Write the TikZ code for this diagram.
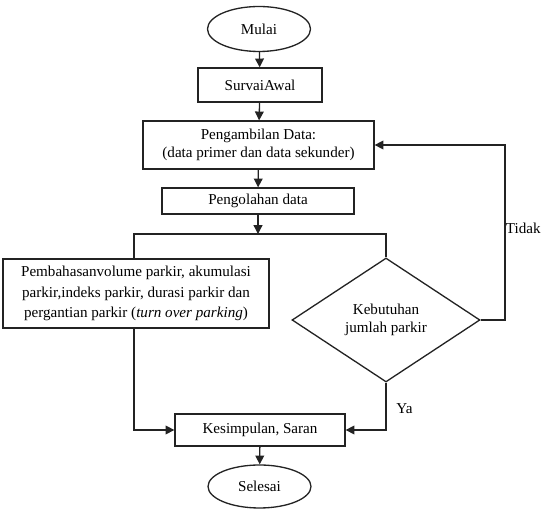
\documentclass[tikz,border=0pt]{standalone}
\usepackage{fontspec}
\setmainfont{Liberation Serif}
\usepackage{tikz}
\usetikzlibrary{arrows.meta,shapes.geometric}
\definecolor{figline}{RGB}{35,35,35}
\tikzset{
  ln/.style   ={draw=figline, line width=0.75pt},
  ptr/.style  ={ln, -{Triangle[length=5pt,width=5pt]}},
  proc/.style ={ln, rectangle, inner sep=1pt, align=center, font=\fontsize{8.6}{10.4}\selectfont},
  term/.style ={ln, ellipse, inner sep=0pt, font=\fontsize{8.6}{10.4}\selectfont},
  cond/.style ={ln, diamond, inner sep=0pt, align=center, font=\fontsize{8.6}{10.4}\selectfont},
  lab/.style  ={font=\fontsize{8.6}{10.4}\selectfont, inner sep=0pt},
}
\begin{document}
\begin{tikzpicture}[x=0.02cm,y=-0.02cm]
  \useasboundingbox (0,0) rectangle (542,516);
  \node[term,minimum width=2.06cm,minimum height=0.9cm] (mulai) at (259,29) {Mulai};
  \node[proc,minimum width=2.48cm,minimum height=0.68cm] (survai) at (260,85) {SurvaiAwal};
  \node[proc,minimum width=4.62cm,minimum height=0.96cm] (ambil) at (258.5,145) {Pengambilan Data:\\(data primer dan data sekunder)};
  \node[proc,minimum width=3.84cm,minimum height=0.52cm] (olah) at (258,201) {Pengolahan data};
  \node[proc,minimum width=5.32cm,minimum height=1.38cm,font=\fontsize{8.6}{11.8}\selectfont] (bahas) at (136,293.5) {Pembahasanvolume parkir, akumulasi\\parkir,indeks parkir, durasi parkir dan\\pergantian parkir (\textit{turn over parking})};
  \node[cond,minimum width=3.76cm,minimum height=2.48cm] (kebut) at (386,320) {Kebutuhan\\jumlah parkir};
  \node[proc,minimum width=3.4cm,minimum height=0.64cm] (simpul) at (260,430) {Kesimpulan, Saran};
  \node[term,minimum width=2.06cm,minimum height=0.86cm] (selesai) at (259.5,486.5) {Selesai};
  \coordinate (split) at (258,234);
  \coordinate (splitl) at (134,234);
  \coordinate (splitr) at (386,234);
  \coordinate (back) at (505,320);
  \coordinate (joinl) at (134,430);
  \coordinate (joinr) at (386,430);
  \draw[ptr] (mulai) -- (survai);
  \draw[ptr] (survai) -- (ambil);
  \draw[ptr] (ambil) -- (olah);
  \draw[ptr] (olah) -- (split);
  \draw[ln] (bahas.north -| splitl) -- (splitl) -- (splitr) -- (kebut.north);
  \draw[ptr] (kebut.east) -- (back) |- (ambil.east);
  \node[lab,anchor=east] (tidak) at (541,228) {Tidak};
  \draw[ptr] (bahas.south -| joinl) -- (joinl) -- (simpul.west);
  \draw[ptr] (kebut.south) -- (joinr) -- (simpul.east);
  \node[lab,anchor=west] (ya) at (396,409) {Ya};
  \draw[ptr] (simpul) -- (selesai);
\end{tikzpicture}
\end{document}
